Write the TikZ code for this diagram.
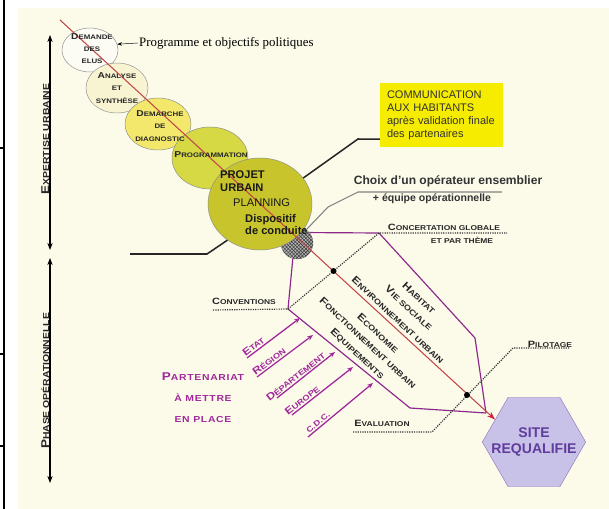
\documentclass[tikz,border=0pt]{standalone}
\usepackage{fontspec}
\setmainfont{Liberation Serif}
\setsansfont{Liberation Sans}
\newfontfamily\capsfont{Liberation Sans}[FakeStretch=1.2]
\usetikzlibrary{arrows.meta,shapes.geometric,patterns}

\definecolor{cream}{RGB}{252,251,234}
\definecolor{stageA}{RGB}{253,252,244}
\definecolor{stageB}{RGB}{248,244,210}
\definecolor{stageC}{RGB}{243,232,108}
\definecolor{stageD}{RGB}{214,216,68}
\definecolor{stageE}{RGB}{200,196,44}
\definecolor{axisred}{RGB}{192,72,72}
\definecolor{tipred}{RGB}{214,30,64}
\definecolor{purp}{RGB}{140,40,140}
\definecolor{partcol}{RGB}{160,40,155}
\definecolor{commyellow}{RGB}{246,236,0}
\definecolor{hexfill}{RGB}{200,194,232}
\definecolor{hexdraw}{RGB}{150,118,190}
\definecolor{hextext}{RGB}{96,60,156}

% big initial for the small caps labels
\newcommand{\capini}[1]{\scalebox{1.3}{#1}}

\tikzset{
        stage/.style={
                ellipse,
                draw=black!45,
                thin,
                inner sep=0pt
            },
        hub/.style={
                circle,
                draw=black!50,
                fill=gray!60,
                postaction={pattern=crosshatch, pattern color=gray!45!black},
                minimum size=0.96cm,
                inner sep=0pt
            },
        stagetext/.style={
                font=\capsfont\bfseries\fontsize{5.6}{10.5}\selectfont,
                align=center,
                inner sep=0pt,
                text=black!85
            },
        projtext/.style={
                anchor=west,
                align=left,
                inner sep=0pt,
                text=black!90,
                font=\sffamily\bfseries\fontsize{9.5}{11}\selectfont
            },
        phase/.style={
                line width=1.3pt,
                {Stealth[length=6pt]}-{Stealth[length=6pt]}
            },
        phaselabel/.style={
                rotate=90,
                anchor=base,
                inner sep=0pt,
                text=black!85,
                font=\capsfont\bfseries\fontsize{7.4}{9}\selectfont
            },
        axis/.style={
                draw=axisred,
                line width=0.9pt,
                -{Stealth[length=7pt,width=5pt,color=tipred]}
            },
        leader/.style={draw=black!85, line width=1.3pt},
        greyleader/.style={draw=gray, line width=0.9pt},
        frame/.style={draw=purp, line width=1pt},
        track/.style={draw=black!80, densely dotted, line width=1pt},
        dot/.style={circle, fill=black, inner sep=0pt, minimum size=0.18cm},
        commbox/.style={
                fill=commyellow,
                minimum width=3.69cm,
                minimum height=1.92cm,
                text width=3.27cm,
                inner xsep=0.21cm,
                align=left,
                text=black!80,
                font=\sffamily\fontsize{9.4}{11}\selectfont
            },
        choix/.style={
                inner sep=0pt,
                text=black!80,
                font=\sffamily\bfseries\fontsize{10.3}{12}\selectfont
            },
        fishlabel/.style={
                rotate=-43,
                inner sep=0pt,
                text=black!85,
                font=\capsfont\bfseries\fontsize{6.6}{8}\selectfont
            },
        steplabel/.style={
                inner sep=0pt,
                text=black!85,
                font=\capsfont\bfseries\fontsize{6}{8}\selectfont
            },
        partner/.style={
                draw=partcol,
                line width=1.1pt,
                -{Stealth[length=5pt,width=4pt]}
            },
        partnerlabel/.style={
                sloped,
                above,
                inner sep=1pt,
                text=partcol,
                font=\capsfont\bfseries\fontsize{6.6}{8}\selectfont
            },
        partnertitle/.style={
                align=center,
                inner sep=0pt,
                text=partcol,
                font=\capsfont\bfseries\fontsize{7.4}{18}\selectfont\addfontfeature{LetterSpace=8}
            },
        site/.style={
                regular polygon,
                regular polygon sides=6,
                minimum size=3.1cm,
                inner sep=0pt,
                fill=hexfill,
                draw=hexdraw
            },
        sitetext/.style={
                align=center,
                inner sep=0pt,
                text=hextext,
                font=\sffamily\bfseries\fontsize{12}{13}\selectfont
            }
}

\begin{document}
\begin{tikzpicture}[x=0.03cm, y=-0.03cm]
  \useasboundingbox (0,0) rectangle (609,509);
  % Background and page edge
  \fill[cream] (18,8) rectangle (609,509);
  \draw[line width=1.2pt] (4,0) -- (4,509);
  \foreach \y in {148,354,446} \draw[line width=1.2pt] (0,\y) -- (4,\y);

  % Phases
  \coordinate (expT) at (50,35);
  \coordinate (expB) at (50,250);
  \coordinate (phaT) at (50,258);
  \coordinate (phaB) at (50,483);
  \draw[phase] (expT) -- (expB);
  \draw[phase] (phaT) -- (phaB);
  \node[phaselabel] (expertise) at (49,139) {\capini{E}XPERTISE URBAINE};
  \node[phaselabel] (operation) at (49,381) {\capini{P}HASE OPÉRATIONNELLE};

  % Stages
  \node[hub] (g) at (297,243) {};
  \node[stage, fill=stageA, minimum width=1.68cm, minimum height=1.32cm] (demande) at (90,50) {};
  \node[stage, fill=stageB, minimum width=1.86cm, minimum height=1.50cm] (analyse) at (117,88) {};
  \node[stage, fill=stageC, minimum width=1.98cm, minimum height=1.56cm] (diagnostic) at (158,124) {};
  \node[stage, fill=stageD, minimum width=2.28cm, minimum height=1.86cm] (programmation) at (210,158) {};
  \node[stage, fill=stageE, minimum width=3.12cm, minimum height=2.76cm] (projet) at (260,204) {};

  % Target
  \node[site] (site) at (534,442) {};
  \node[sitetext] (sitetxt) at (site.center) {SITE\\REQUALIFIE};

  % Fishbone
  \coordinate (conv) at (288,309);
  \coordinate (conc) at (379,233);
  \coordinate (upper) at (475,338);
  \coordinate (lower) at (410,408);
  \coordinate (meet) at (486,413);
  \draw[frame] (g.40) -- (conc) -- (upper) -- (meet);
  \draw[frame] (g.-105) -- (conv) -- (lower) -- (meet);

  \coordinate (convend) at (213,310);
  \coordinate (concend) at (507,233);
  \coordinate (evalend) at (353,432);
  \coordinate (evalbend) at (432,432);
  \coordinate (pilotbend) at (513,348);
  \coordinate (pilotend) at (570,348);
  \draw[track] (convend) -- (conv) -- (conc) -- (concend);
  \draw[track] (evalend) -- (evalbend) -- (pilotbend) -- (pilotend);

  % Axis
  \coordinate (axisstart) at (60,20);
  \draw[axis] (axisstart) -- (site.150);
  \node[dot] (dotA) at (333.5,271) {};
  \node[dot] (dotB) at (467,395) {};

  % Stage texts
  \node[stagetext] (demandetxt) at (92,48.5) {\capini{D}EMANDE\\DES\\ELUS};
  \node[stagetext] (analysetxt) at (117,88) {\capini{A}NALYSE\\ET\\SYNTHÈSE};
  \node[stagetext] (diagnostictxt) at (160,126) {\capini{D}EMARCHE\\DE\\DIAGNOSTIC};
  \node[stagetext] (programmationtxt) at (211,155) {\capini{P}ROGRAMMATION};
  \node[projtext] (projettxt) at (220,181.5) {PROJET\\URBAIN};
  \node[projtext, font=\sffamily\fontsize{9.5}{11}\selectfont] (planning) at (233,203) {PLANNING};
  \node[projtext] (dispositif) at (245,224.5) {Dispositif\\de conduite};

  \node[anchor=west, inner sep=0pt, font=\rmfamily\fontsize{11}{13}\selectfont] (programme) at (139,43) {Programme et objectifs politiques};
  \draw[thin, -{Stealth[length=4pt]}] ([xshift=-1pt]programme.west) -- (demande.12);

  % Leaders
  \node[commbox] (comm) at (441.5,115) {COMMUNICATION\\AUX HABITANTS\\après validation finale\\des partenaires};
  \coordinate (commbend) at (358,139);
  \draw[leader] (projet.31) -- (commbend) -- ([yshift=0.24cm]comm.south west);
  \coordinate (projbend) at (207,254);
  \coordinate (projend) at (130,254);
  \draw[leader] (projet.228) -- (projbend) -- (projend);

  \node[choix] (choix) at (448,181) {Choix d'un opérateur ensemblier};
  \node[choix, font=\sffamily\bfseries\fontsize{9}{11}\selectfont] (equipe) at (432,199) {+ équipe opérationnelle};
  \coordinate (hubA) at (328,207);
  \coordinate (hubB) at (358,192);
  \coordinate (hubC) at (502,192);
  \draw[greyleader] (g.55) -- (hubA) -- (hubB) -- (hubC);

  % Themes
  \node[fishlabel] (habitat) at (419,298) {\capini{H}ABITAT};
  \node[fishlabel] (viesociale) at (409,308) {\capini{V}IE SOCIALE};
  \node[fishlabel] (environnement) at (398,320) {\capini{E}NVIRONNEMENT URBAIN};
  \node[fishlabel] (economie) at (378,333) {\capini{E}CONOMIE};
  \node[fishlabel] (fonctionnement) at (368,343) {\capini{F}ONCTIONNEMENT URBAIN};
  \node[fishlabel] (equipements) at (357,354) {\capini{E}QUIPEMENTS};

  % Steps
  \node[steplabel] (conventions) at (244,301) {\capini{C}ONVENTIONS};
  \node[steplabel] (concertation) at (444,227) {\capini{C}ONCERTATION GLOBALE};
  \node[steplabel] (theme) at (462,240) {ET PAR THÈME};
  \node[steplabel] (evaluation) at (382,423) {\capini{E}VALUATION};
  \node[steplabel] (pilotage) at (550,344) {\capini{P}ILOTAGE};

  % Partners
  \foreach \nm/\sx/\sy/\ex/\ey/\p/\lab in {
      etat/247/358/300/318/0.18/{\capini{E}TAT},
      region/257/377/313/335/0.27/{\capini{R}ÉGION},
      departement/277/398/335/352/0.38/{\capini{D}ÉPARTEMENT},
      europe/292/415/353/367/0.22/{\capini{E}UROPE},
      cdc/308/437/373/383/0.2/{C.D.C.}}
  {
    \coordinate (\nm-from) at (\sx,\sy);
    \coordinate (\nm-to) at (\ex,\ey);
    \draw[partner] (\nm-from) -- (\nm-to) node[partnerlabel, pos=\p] (\nm) {\lab};
  }
  \node[partnertitle] (partenariat) at (203,398) {\capini{P}ARTENARIAT\\À METTRE\\EN PLACE};
\end{tikzpicture}
\end{document}
